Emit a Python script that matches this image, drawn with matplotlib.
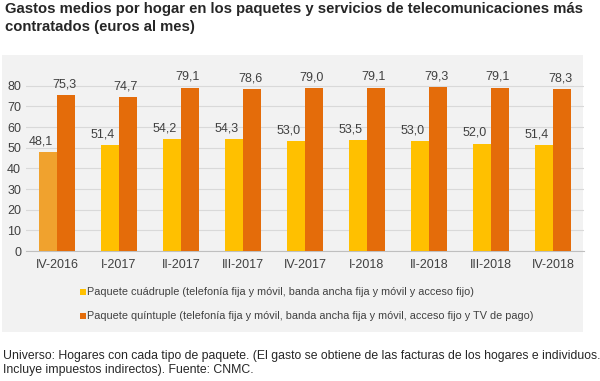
import numpy as np
import matplotlib.pyplot as plt
from matplotlib.patches import Rectangle

plt.rcParams["font.family"] = ["Liberation Sans", "DejaVu Sans"]

periodos = ["IV-2016", "I-2017", "II-2017", "III-2017", "IV-2017",
            "I-2018", "II-2018", "III-2018", "IV-2018"]
cuadruple = [48.1, 51.4, 54.2, 54.3, 53.0, 53.5, 53.0, 52.0, 51.4]
quintuple = [75.3, 74.7, 79.1, 78.6, 79.0, 79.1, 79.3, 79.1, 78.3]

leyenda = [
    "Paquete cuádruple (telefonía fija y móvil, banda ancha fija y móvil y acceso fijo)",
    "Paquete quíntuple (telefonía fija y móvil, banda ancha fija y móvil, acceso fijo y TV de pago)",
]

amarillo = "#FFC000"
amarillo_primero = "#F0A22E"
naranja = "#E46C0A"
fondo = "#F2F2F2"

fig = plt.figure(figsize=(6, 3.81), dpi=100)
fig.patch.set_facecolor("white")

# panel gris de fondo
fig.add_artist(Rectangle((2 / 600, 1 - 332 / 381), 581 / 600, 277 / 381,
                         transform=fig.transFigure, facecolor=fondo,
                         edgecolor="none", zorder=0))

ax = fig.add_axes([26 / 600, 1 - 251 / 381, 558 / 600, (251 - 65) / 381])
ax.patch.set_alpha(0)

x = np.arange(len(periodos))
w = 0.285
colores_c = [amarillo_primero] + [amarillo] * (len(periodos) - 1)
b1 = ax.bar(x - w / 2, cuadruple, w, color=colores_c, zorder=3)
b2 = ax.bar(x + w / 2, quintuple, w, color=naranja, zorder=3)

for rect, v in zip(b1, cuadruple):
    ax.text(rect.get_x() + rect.get_width() / 2 - 0.12, v + 2.2,
            f"{v:.1f}".replace(".", ","), ha="center", va="bottom",
            fontsize=9, color="#404040")
for rect, v in zip(b2, quintuple):
    ax.text(rect.get_x() + rect.get_width() / 2 - 0.03, v + 2.2,
            f"{v:.1f}".replace(".", ","), ha="center", va="bottom",
            fontsize=9, color="#404040")

ax.set_xlim(-0.5, len(periodos) - 0.5)
ax.set_ylim(0, 90)
ax.set_yticks(range(0, 81, 10))
ax.set_xticks(x)
ax.set_xticklabels(periodos)
ax.tick_params(axis="both", length=0, labelsize=9, colors="#404040")
ax.tick_params(axis="x", pad=6)
ax.grid(axis="y", color="#D9D9D9", linewidth=0.8, zorder=0)
for s in ["top", "right", "left"]:
    ax.spines[s].set_visible(False)
ax.spines["bottom"].set_color("#BFBFBF")

# leyenda
for i, (txt, c) in enumerate(zip(leyenda, [amarillo, naranja])):
    yy = 1 - (292 + i * 24) / 381
    fig.add_artist(Rectangle((80 / 600, yy - 3 / 381), 6 / 600, 6 / 381,
                             transform=fig.transFigure, facecolor=c,
                             edgecolor="none"))
    fig.text(87 / 600, yy, txt, fontsize=7.8, va="center", color="#404040")

fig.text(5 / 600, 1 - 2 / 381,
         "Gastos medios por hogar en los paquetes y servicios de telecomunicaciones más\n"
         "contratados (euros al mes)",
         fontsize=10.7, fontweight="bold", va="top", color="#262626",
         linespacing=1.35)

fig.text(3 / 600, 1 - 363 / 381,
         "Universo: Hogares con cada tipo de paquete. (El gasto se obtiene de las facturas de los hogares e individuos.\n"
         "Incluye impuestos indirectos). Fuente: CNMC.",
         fontsize=8.8, va="center", color="#262626", linespacing=1.2)

fig.savefig("out.png", dpi=100)
